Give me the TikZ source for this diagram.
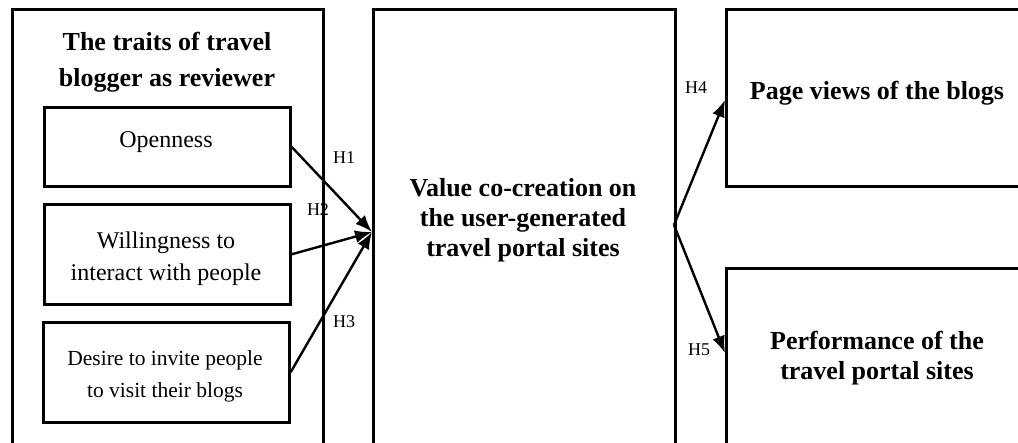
\documentclass[tikz,border=0pt]{standalone}
\usepackage{fontspec}
\setmainfont{Liberation Serif}
\usetikzlibrary{arrows.meta}
\begin{document}
\begin{tikzpicture}[x=1pt,y=-1pt,
  inbox/.style={draw=black,line width=2.6pt,anchor=north west,inner sep=0pt,align=center},
  btext/.style={font=\fontsize{26}{30}\selectfont\bfseries,align=center,inner sep=0pt},
  ttext/.style={font=\fontsize{26}{36}\selectfont\bfseries,align=center,inner sep=0pt},
  rtext/.style={font=\fontsize{24}{32}\selectfont,align=center,inner sep=0pt},
  stext/.style={font=\fontsize{21.5}{32}\selectfont,align=center,inner sep=0pt},
  hlab/.style={font=\fontsize{18}{20}\selectfont,inner sep=0pt},
  arr/.style={line width=2.4pt,-{Latex[length=17pt,width=13pt]}}]
\useasboundingbox (0,0) rectangle (1018,443);
\clip (0,0) rectangle (1018,443);
% outer boxes
\node[inbox,minimum width=311pt,minimum height=452pt] (left) at (11,8) {};
\node[inbox,minimum width=302pt,minimum height=452pt] (mid) at (372,8) {};
\node[inbox,minimum width=320pt,minimum height=177pt] (pv) at (725,8) {};
\node[inbox,minimum width=320pt,minimum height=190pt] (perf) at (725,267) {};
% inner boxes
\node[inbox,minimum width=246pt,minimum height=79pt] (open) at (43,106) {};
\node[inbox,minimum width=246pt,minimum height=100pt] (will) at (43,203) {};
\node[inbox,minimum width=246pt,minimum height=100pt] (des) at (42,321) {};
% texts
\node[ttext] (title) at (167,62) {The traits of travel\\blogger as reviewer};
\node[rtext] (topen) at (166,142) {Openness};
\node[rtext] (twill) at (166,259) {Willingness to\\interact with people};
\node[stext] (tdes) at (165,376) {Desire to invite people\\to visit their blogs};
\node[btext] (tmid) at (523,220) {Value co-creation on\\the user-generated\\travel portal sites};
\node[btext] (tpv) at (877,93) {Page views of the blogs};
\node[btext] (tperf) at (877,358) {Performance of the\\travel portal sites};
% connector points
\coordinate (hin) at (372,232);
\coordinate (hout) at (674,225);
\coordinate (pvin) at (725,100);
\coordinate (perfin) at (725,353);
% arrows
\draw[arr] (open.east) -- (hin);
\draw[arr] (will.east) -- (hin);
\draw[arr] (des.east) -- (hin);
\draw[arr] (hout) -- (pvin);
\draw[arr] (hout) -- (perfin);
% labels
\node[hlab] (h1) at (344,158) {H1};
\node[hlab] (h2) at (318,210) {H2};
\node[hlab] (h3) at (344,322) {H3};
\node[hlab] (h4) at (696,88) {H4};
\node[hlab] (h5) at (699,350) {H5};
\end{tikzpicture}
\end{document}
